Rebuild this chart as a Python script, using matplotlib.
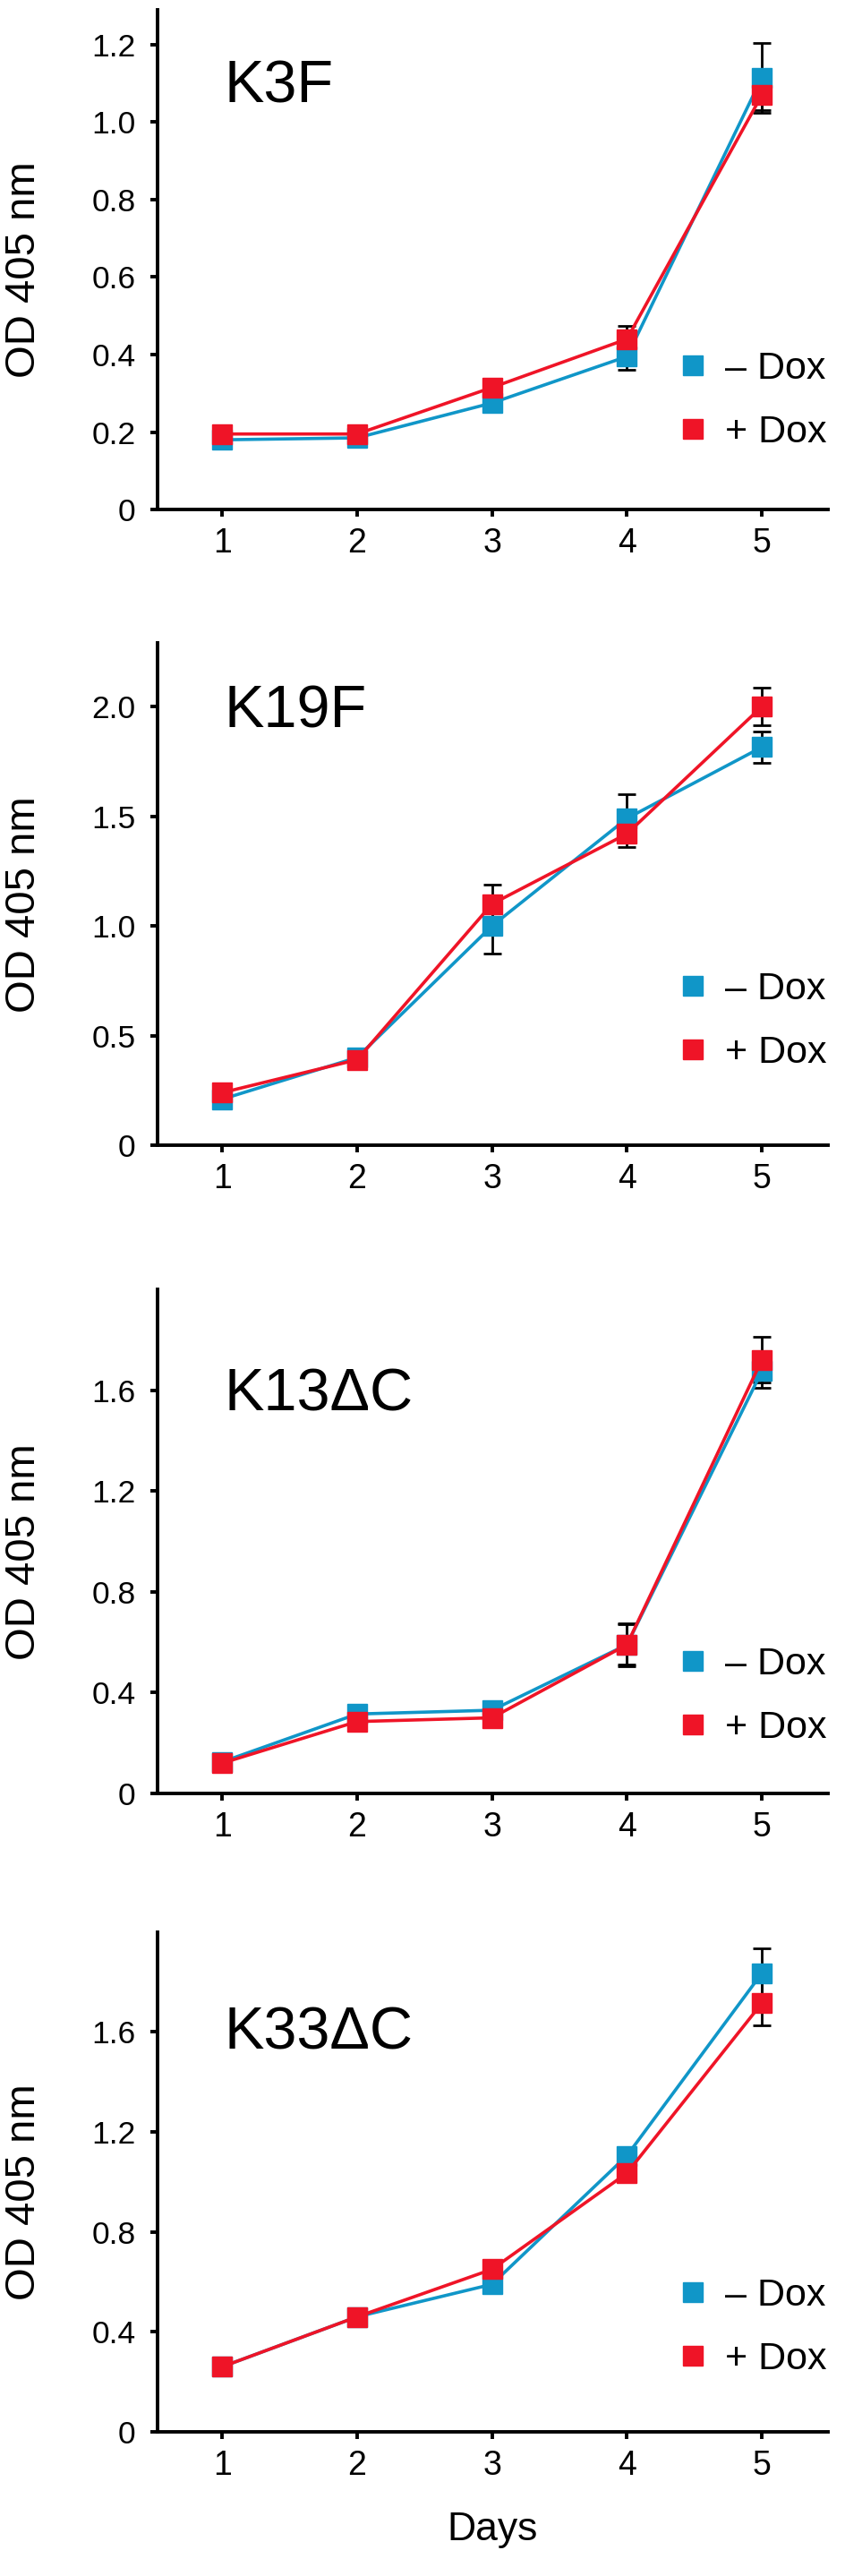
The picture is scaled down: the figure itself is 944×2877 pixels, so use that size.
import numpy as np
import matplotlib
matplotlib.use('Agg')
import matplotlib.pyplot as plt

plt.rcParams['font.family'] = ['Liberation Sans', 'DejaVu Sans']

days = [1, 2, 3, 4, 5]
panels = ['K3F', 'K19F', 'K13\u0394C', 'K33\u0394C']

# -Dox (blue) and +Dox (red)
minus_k3f = [0.18, 0.185, 0.275, 0.395, 1.115]
minus_k3f_err = [0, 0, 0, 0.035, 0.09]
plus_k3f = [0.195, 0.195, 0.315, 0.44, 1.07]
plus_k3f_err = [0, 0, 0, 0.035, 0.04]

minus_k19f = [0.21, 0.40, 1.0, 1.49, 1.815]
minus_k19f_err = [0, 0, 0.127, 0.11, 0.07]
plus_k19f = [0.24, 0.39, 1.10, 1.42, 2.0]
plus_k19f_err = [0, 0, 0.09, 0.06, 0.086]

minus_k13 = [0.125, 0.315, 0.33, 0.59, 1.675]
minus_k13_err = [0, 0, 0, 0.085, 0.067]
plus_k13 = [0.12, 0.285, 0.30, 0.59, 1.72]
plus_k13_err = [0, 0, 0, 0.08, 0.09]

minus_k33 = [0.26, 0.46, 0.59, 1.105, 1.835]
minus_k33_err = [0, 0, 0, 0, 0.10]
plus_k33 = [0.26, 0.46, 0.65, 1.035, 1.715]
plus_k33_err = [0, 0, 0, 0, 0.09]

yticks = [[0, 0.2, 0.4, 0.6, 0.8, 1.0, 1.2],
          [0, 0.5, 1.0, 1.5, 2.0],
          [0, 0.4, 0.8, 1.2, 1.6],
          [0, 0.4, 0.8, 1.2, 1.6]]
ytop = [1.29, 2.29, 2.0, 2.0]

series = [(minus_k3f, minus_k3f_err, plus_k3f, plus_k3f_err),
          (minus_k19f, minus_k19f_err, plus_k19f, plus_k19f_err),
          (minus_k13, minus_k13_err, plus_k13, plus_k13_err),
          (minus_k33, minus_k33_err, plus_k33, plus_k33_err)]

blue = '#1096c8'
red = '#ef1427'

# layout in figure fractions (bottom, height), label / legend spots
boxes = [(0.8022, 0.1940), (0.5554, 0.1950), (0.3038, 0.1957), (0.0560, 0.1940)]
label_y = [0.814, 0.832, 0.760, 0.765]
legend_y = [0.217, 0.2475, 0.193, 0.208]

fig = plt.figure(figsize=(9.45, 28.77), dpi=100)

for i in range(4):
    b, h = boxes[i]
    ax = fig.add_axes([0.1862, b, 0.7926, h])
    m, me, p, pe = series[i]

    ax.errorbar(days, m, yerr=me, fmt='none', ecolor='black', elinewidth=2,
                capsize=7, capthick=2, zorder=1)
    ax.errorbar(days, p, yerr=pe, fmt='none', ecolor='black', elinewidth=2,
                capsize=7, capthick=2, zorder=1)
    ax.plot(days, m, '-s', color=blue, lw=2.6, ms=15.5, label='\u2013 Dox', zorder=3)
    ax.plot(days, p, '-s', color=red, lw=2.6, ms=15.5, label='+ Dox', zorder=4)

    ax.set_xlim(0.521, 5.49)
    ax.set_ylim(0, ytop[i])
    ax.set_xticks(days)
    ax.set_xticklabels([str(d) for d in days])
    ax.set_yticks(yticks[i])
    ax.set_yticklabels(['0'] + ['%.1f' % v for v in yticks[i][1:]])

    for s in ['top', 'right']:
        ax.spines[s].set_visible(False)
    for s in ['left', 'bottom']:
        ax.spines[s].set_linewidth(2.8)
    ax.tick_params(axis='both', direction='out', length=5.5, width=2.8)
    ax.tick_params(axis='y', labelsize=25.5, pad=12)
    ax.tick_params(axis='x', labelsize=27, pad=9)

    ax.set_ylabel('OD 405 nm', fontsize=34)
    ax.yaxis.set_label_coords(-0.17, 0.48)

    ax.text(0.10, label_y[i], panels[i], transform=ax.transAxes, fontsize=48,
            ha='left', va='baseline')

    leg = ax.legend(loc='center left', bbox_to_anchor=(0.777, legend_y[i]),
                    frameon=False, fontsize=31, handlelength=0.75,
                    handletextpad=0.45, labelspacing=0.72, borderpad=0,
                    borderaxespad=0, markerscale=1.05)
    for hnd in leg.legend_handles:
        hnd.set_linestyle('none')

    if i == 3:
        ax.set_xlabel('Days', fontsize=32, labelpad=24)

fig.savefig('out.png', dpi=100)
